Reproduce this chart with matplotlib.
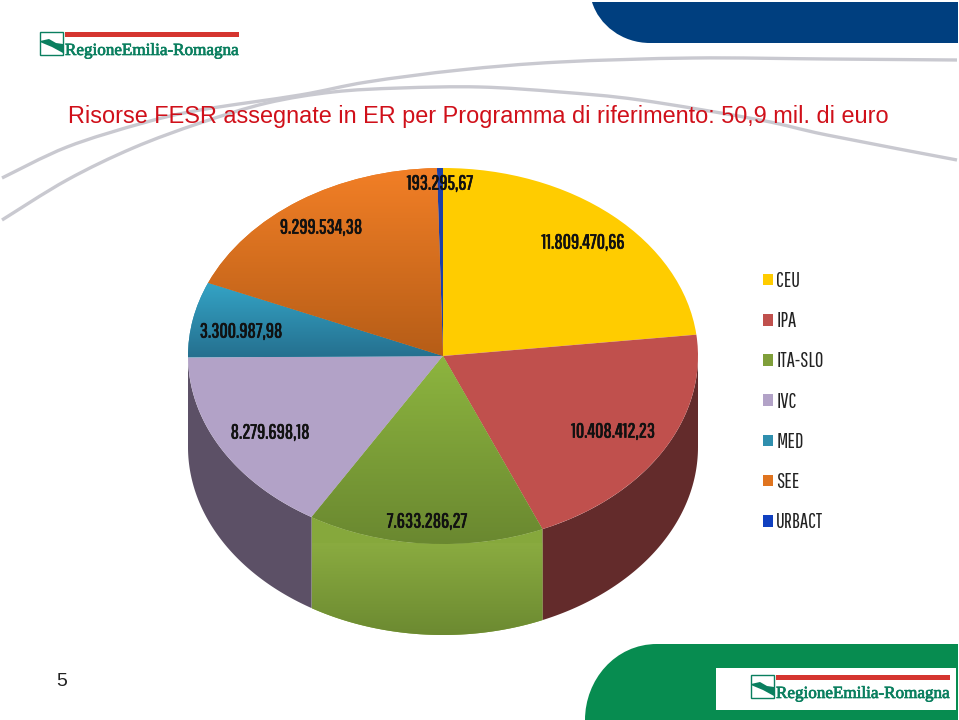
# -*- coding: UTF-8 -*-
import numpy as np
import matplotlib
matplotlib.use('Agg')
import matplotlib.pyplot as plt
import matplotlib.patheffects as pe
from matplotlib.patches import Patch, PathPatch, Polygon, Rectangle
from matplotlib.path import Path

programmi = ['CEU', 'IPA', 'ITA-SLO', 'IVC', 'MED', 'SEE', 'URBACT']
risorse = [11809470.66, 10408412.23, 7633286.27, 8279698.18, 3300987.98, 9299534.38, 193295.67]
titolo = 'Risorse FESR assegnate in ER per Programma di riferimento: 50,9 mil. di euro'
pagina = '5'

colori = ['#ffcc00', '#c0504d', '#86a83c', '#b2a2c7', '#2f8cab', '#e0761f', '#1c3fa8']
colori_legenda = ['#ffcc00', '#c0504d', '#7f9f3a', '#b2a2c7', '#2f8fae', '#e0741f', '#1040c0']
# sfumature (alto, basso), solo dove ci sono
sfumature = {2: ('#8db53f', '#6a8830'), 4: ('#34a4c6', '#25708f'), 5: ('#f27f26', '#b65d17')}
pareti = {1: '#632b2b', 3: '#5c5066'}
# posizione delle etichette in pixel
pos_etichette = [(583, 243), (613, 432), (427, 522), (270, 433), (241, 332), (321, 228), (440, 184)]

W, H = 959, 720
CX, CY, RX, RY = 443, 356, 255, 188
SPESSORE = 91 / RY
STRETTO = ['Pathway Gothic One', 'Archivo Narrow', 'Lato']

fig = plt.figure(figsize=(W / 100, H / 100), dpi=100)
fig.patch.set_facecolor('white')


def px(x, y):
    return x / W, 1 - y / H


# sfondo in coordinate pixel
bg = fig.add_axes([0, 0, 1, 1], zorder=0)
bg.set_xlim(0, W)
bg.set_ylim(H, 0)
bg.axis('off')


def curva_liscia(punti):
    p = np.array(punti, dtype=float)
    p = np.r_[[p[0]], p, [p[-1]]]
    vert = [p[1]]
    cod = [Path.MOVETO]
    for i in range(1, len(p) - 2):
        vert += [p[i] + (p[i + 1] - p[i - 1]) / 6, p[i + 1] - (p[i + 2] - p[i]) / 6, p[i + 1]]
        cod += [Path.CURVE4] * 3
    return Path(vert, cod)


curva_a = [(2, 178), (67, 147), (143, 123), (200, 110), (300, 95), (367, 82), (460, 70), (560, 62), (693, 58), (827, 59), (957, 60)]
curva_b = [(2, 220), (67, 180), (133, 148), (200, 123), (267, 103), (333, 92), (400, 88), (480, 87), (560, 92), (640, 100), (760, 120), (827, 135), (957, 160)]
for curva in (curva_a, curva_b):
    bg.add_patch(PathPatch(curva_liscia(curva), fc='none', ec='#c9c9d0', lw=2.4, capstyle='butt'))

# fascia blu in alto e fascia verde in basso
blu = Path([(592, 2), (599, 25), (622, 43), (650, 43), (958, 43), (958, 2), (592, 2)],
           [Path.MOVETO, Path.CURVE4, Path.CURVE4, Path.CURVE4, Path.LINETO, Path.LINETO, Path.CLOSEPOLY])
bg.add_patch(PathPatch(blu, fc='#003f7f', ec='none'))
verde = Path([(585, 720), (585, 680), (615, 644), (657, 644), (958, 644), (958, 720), (585, 720)],
             [Path.MOVETO, Path.CURVE4, Path.CURVE4, Path.CURVE4, Path.LINETO, Path.LINETO, Path.CLOSEPOLY])
bg.add_patch(PathPatch(verde, fc='#078c50', ec='none'))
bg.add_patch(Rectangle((716, 668), 240, 42, fc='white', ec='none'))


def logo(x0, y0):
    bg.add_patch(Rectangle((x0, y0), 23, 23, fc='white', ec='#0a7f5f', lw=1))
    bg.add_patch(Polygon([(x0, y0 + 9), (x0 + 9, y0 + 7), (x0 + 16, y0 + 11), (x0 + 23, y0 + 12), (x0 + 23, y0 + 21), (x0 + 12, y0 + 15), (x0, y0 + 10)],
                         fc='#0a7f5f', ec='none'))
    bg.add_patch(Rectangle((x0 + 25, y0), 174, 5, fc='#d5352f', ec='none'))
    fx, fy = px(x0 + 25, y0 + 23)
    fig.text(fx, fy, 'RegioneEmilia-Romagna', color='#0a7f5f', fontsize=12.3,
             family='Liberation Serif', va='baseline', ha='left', zorder=3,
             path_effects=[pe.withStroke(linewidth=0.5, foreground='#0a7f5f')])


logo(40, 32)
logo(751, 675)

# torta: il cerchio unitario diventa un'ellisse perche' l'aspetto e' libero
ax = fig.add_axes([(CX - 1.25 * RX) / W, 1 - (CY + 1.75 * RY) / H, 2.5 * RX / W, 3 * RY / H], zorder=1)
fette, _ = ax.pie(risorse, colors=colori, startangle=90, counterclock=False, radius=1)
ax.set_aspect('auto')
ax.set_xlim(-1.25, 1.25)
ax.set_ylim(-1.75, 1.25)
ax.patch.set_alpha(0)


def sfuma(patch, estremi, alto, basso, zorder):
    c1 = np.array(matplotlib.colors.to_rgb(alto))
    c2 = np.array(matplotlib.colors.to_rgb(basso))
    t = np.linspace(0, 1, 128)[:, None, None]
    img = c1[None, None, :] * (1 - t) + c2[None, None, :] * t
    im = ax.imshow(img, extent=estremi, aspect='auto', interpolation='bilinear', zorder=zorder, origin='upper')
    im.set_clip_path(patch)


# pareti laterali, solo la parte davanti
angoli = 90 - np.cumsum([0] + risorse) / sum(risorse) * 360
for i in range(len(risorse)):
    a1, a2 = angoli[i], angoli[i + 1]
    a1, a2 = min(a1, 0), max(a2, -180)
    if a1 <= a2:
        continue
    th = np.radians(np.linspace(a1, a2, 80))
    xs, ys = np.cos(th), np.sin(th)
    bordo = np.r_[np.c_[xs, ys], np.c_[xs, ys - SPESSORE][::-1]]
    parete = Polygon(bordo, fc=pareti.get(i, colori[i]), ec='none', zorder=1)
    ax.add_patch(parete)
    if i == 2:
        sfuma(parete, (xs.min(), xs.max(), -1 - SPESSORE, ys.min()), '#8aab40', '#6c8a31', 1.2)

for i, fetta in enumerate(fette):
    fetta.set_zorder(2)
    if i in sfumature:
        e = fetta.get_path().get_extents(fetta.get_patch_transform())
        sfuma(fetta, (e.x0, e.x1, e.y0, e.y1), sfumature[i][0], sfumature[i][1], 2.2)
ax.set_xlim(-1.25, 1.25)
ax.set_ylim(-1.75, 1.25)

# etichette con il formato italiano
for v, (lx, ly) in zip(risorse, pos_etichette):
    s = f'{v:,.2f}'.replace(',', 'X').replace('.', ',').replace('X', '.')
    fx, fy = px(lx, ly)
    fig.text(fx, fy, s, fontsize=14.5, color='#111111', ha='center', va='center',
             family=STRETTO, zorder=3, path_effects=[pe.withStroke(linewidth=0.5, foreground='#111111')])

maniglie = [Patch(fc=c, ec='none') for c in colori_legenda]
fig.legend(maniglie, programmi, loc='upper left', bbox_to_anchor=px(763, 271), frameon=False,
           prop={'family': STRETTO, 'size': 15}, labelcolor='#222222',
           handlelength=0.48, handleheight=0.48, handletextpad=0.15, labelspacing=0.97, borderpad=0, borderaxespad=0)

fx, fy = px(68, 116)
fig.text(fx, fy, titolo, fontsize=16.9, color='#d0101a', ha='left', va='center',
         family=['Liberation Sans', 'DejaVu Sans'], zorder=3)
fx, fy = px(62, 681)
fig.text(fx, fy, pagina, fontsize=14, color='#222222', ha='center', va='center', family='Liberation Sans', zorder=3)

fig.savefig('out.png', dpi=100)
